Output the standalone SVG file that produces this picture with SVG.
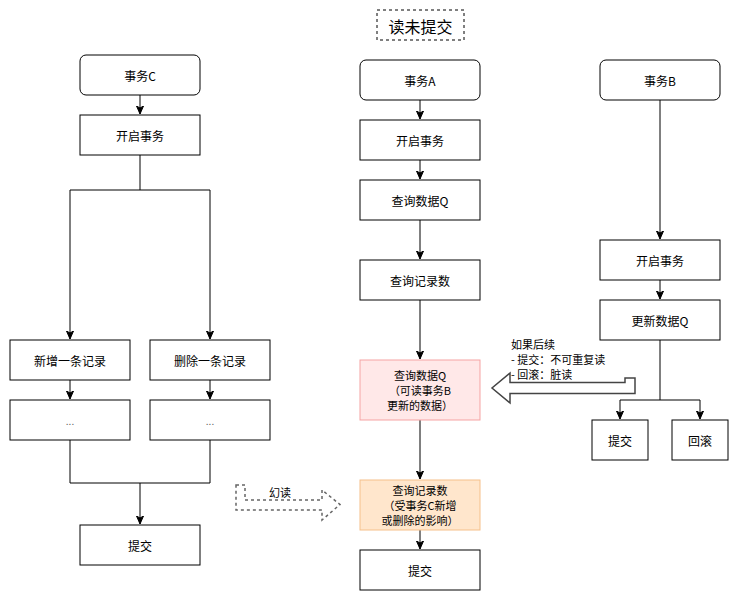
<svg xmlns="http://www.w3.org/2000/svg" width="739" height="601" viewBox="0 0 739 601">
<style>
.b{fill:#fff;stroke:#000;stroke-width:1}
.t{font-family:"Noto Sans CJK SC","Liberation Sans",sans-serif;font-size:12px;fill:#000;text-anchor:middle;dominant-baseline:central}
.m{font-size:11px}
.l{fill:none;stroke:#000;stroke-width:1}
.a{marker-end:url(#ar)}
</style>
<defs>
<marker id="ar" markerUnits="userSpaceOnUse" markerWidth="10" markerHeight="10" viewBox="0 0 10 10" refX="8" refY="5" orient="auto">
<path d="M0,1.5 L8,5 L0,8.5 L2,5 z" fill="#000" stroke="#000" stroke-width="1"/>
</marker>
</defs>
<rect width="739" height="601" fill="#fff"/>

<g id="title">
<rect x="377" y="10" width="87" height="30" fill="#fff" stroke="#000" stroke-dasharray="3,3"/>
<text x="420.5" y="25.5" class="t" style="font-size:16px">读未提交</text>
</g>

<g id="connectors">
<line x1="140" y1="95" x2="140" y2="114" class="l a"/>
<polyline points="140,155 140,190 70,190 70,339" class="l a"/>
<polyline points="140,190 210,190 210,339" class="l a"/>
<line x1="70" y1="380" x2="70" y2="399" class="l a"/>
<line x1="210" y1="380" x2="210" y2="399" class="l a"/>
<polyline points="70,440 70,483 210,483 210,440" class="l"/>
<line x1="140" y1="483" x2="140" y2="524" class="l a"/>
<line x1="420" y1="100" x2="420" y2="119" class="l a"/>
<line x1="420" y1="160" x2="420" y2="179" class="l a"/>
<line x1="420" y1="220" x2="420" y2="259" class="l a"/>
<line x1="420" y1="300" x2="420" y2="359" class="l a"/>
<line x1="420" y1="420" x2="420" y2="479" class="l a"/>
<line x1="420" y1="530" x2="420" y2="549" class="l a"/>
<line x1="660" y1="100" x2="660" y2="239" class="l a"/>
<line x1="660" y1="280" x2="660" y2="299" class="l a"/>
<polyline points="660,340 660,400 620,400 620,419" class="l a"/>
<polyline points="660,400 700,400 700,419" class="l a"/>
<polygon points="635,378 625,378 625,382.5 510,382.5 510,373 492,388 510,403 510,393.5 635,393.5" fill="#fff" stroke="#444" stroke-width="1.5" stroke-linejoin="miter"/>
<polygon points="236,485 245,485 245,500 322,500 322,490 340,504.5 322,520 322,510 236,510" fill="#fff" stroke="#666" stroke-width="1.5" stroke-dasharray="3,3"/>
</g>

<g id="labels">
<text x="280" y="491.5" class="t" style="font-size:11px">幻读</text>
<text x="511" y="344" class="t m" style="text-anchor:start">如果后续</text>
<text x="511" y="359" class="t m" style="text-anchor:start">- 提交：不可重复读</text>
<text x="511" y="374" class="t m" style="text-anchor:start">- 回滚：脏读</text>
</g>

<g id="nodeC"><rect x="80" y="55" width="120" height="40" rx="6" class="b"/><text x="140" y="75" class="t">事务C</text></g>
<g id="nodeC1"><rect x="80" y="115" width="120" height="40" class="b"/><text x="140" y="135" class="t">开启事务</text></g>
<g id="nodeC2"><rect x="10" y="340" width="120" height="40" class="b"/><text x="70" y="360" class="t">新增一条记录</text></g>
<g id="nodeC3"><rect x="150" y="340" width="120" height="40" class="b"/><text x="210" y="360" class="t">删除一条记录</text></g>
<g id="nodeC4"><rect x="10" y="400" width="120" height="40" class="b"/><text x="70" y="420" class="t" style="font-size:10px;fill:#666">...</text></g>
<g id="nodeC5"><rect x="150" y="400" width="120" height="40" class="b"/><text x="210" y="420" class="t" style="font-size:10px;fill:#666">...</text></g>
<g id="nodeC6"><rect x="80" y="525" width="120" height="40" class="b"/><text x="140" y="545" class="t">提交</text></g>

<g id="nodeA"><rect x="360" y="60" width="120" height="40" rx="6" class="b"/><text x="420" y="80" class="t">事务A</text></g>
<g id="nodeA1"><rect x="360" y="120" width="120" height="40" class="b"/><text x="420" y="140" class="t">开启事务</text></g>
<g id="nodeA2"><rect x="360" y="180" width="120" height="40" class="b"/><text x="420" y="200" class="t">查询数据Q</text></g>
<g id="nodeA3"><rect x="360" y="260" width="120" height="40" class="b"/><text x="420" y="280" class="t">查询记录数</text></g>
<g id="nodeA4"><rect x="360" y="360" width="120" height="60" fill="#ffe8e8" stroke="#f5a3a3"/>
<text x="420" y="375" class="t m">查询数据Q</text><text x="420" y="390" class="t m">（可读事务B</text><text x="420" y="405" class="t m">更新的数据）</text></g>
<g id="nodeA5"><rect x="360" y="480" width="120" height="50" fill="#ffe6cc" stroke="#f5c08a"/>
<text x="420" y="490" class="t m">查询记录数</text><text x="420" y="505" class="t m">（受事务C新增</text><text x="420" y="520" class="t m">或删除的影响）</text></g>
<g id="nodeA6"><rect x="360" y="550" width="120" height="40" class="b"/><text x="420" y="570" class="t">提交</text></g>

<g id="nodeB"><rect x="600" y="60" width="120" height="40" rx="6" class="b"/><text x="660" y="80" class="t">事务B</text></g>
<g id="nodeB1"><rect x="600" y="240" width="120" height="40" class="b"/><text x="660" y="260" class="t">开启事务</text></g>
<g id="nodeB2"><rect x="600" y="300" width="120" height="40" class="b"/><text x="660" y="320" class="t">更新数据Q</text></g>
<g id="nodeB3"><rect x="592" y="420" width="56" height="40" class="b"/><text x="620" y="440" class="t">提交</text></g>
<g id="nodeB4"><rect x="672" y="420" width="56" height="40" class="b"/><text x="700" y="440" class="t">回滚</text></g>
</svg>
